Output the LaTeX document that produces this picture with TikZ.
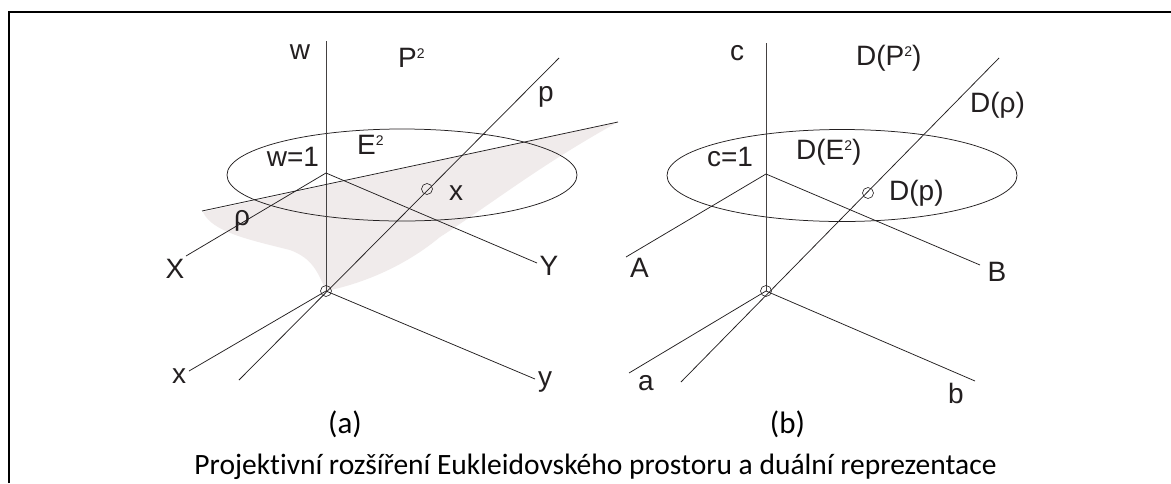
\documentclass[tikz,border=0pt]{standalone}
\usepackage{fontspec}
\setmainfont{Liberation Sans}
\newfontfamily\capfont[Ligatures=NoCommon]{Carlito}
\definecolor{ink}{HTML}{231F20}
\definecolor{planefill}{HTML}{F0EBEB}
\usetikzlibrary{shapes.geometric}
\tikzset{
  ln/.style={draw=ink,line width=0.75pt},
  axis/.style={draw=ink!85,line width=1pt},
  ptc/.style={circle,draw=ink,line width=0.6pt,minimum size=11pt,inner sep=0pt,fill=none},
  ring/.style={ellipse,draw=ink,line width=0.75pt,inner sep=0pt,minimum width=350pt,minimum height=92pt},
  lab/.style={inner sep=0pt,text=ink,font=\fontsize{28}{28}\selectfont},
  captext/.style={inner sep=0pt,text=black,font=\capfont\fontsize{31}{31}\selectfont}
}
\newcommand{\sq}{\raisebox{9pt}{\fontsize{14}{14}\selectfont 2}}
\begin{document}
\begin{tikzpicture}[x=1pt,y=-1pt]
\useasboundingbox (0,0) rectangle (1171,483);
\fill[white] (0,0) rectangle (1171,483);
\draw[black,line width=2pt] (9,483) -- (9,12) -- (1171,12);
% shaded region
\fill[planefill] (203,212) .. controls (212,232) and (250,240) .. (290,250)
  .. controls (312,258) and (318,272) .. (326,291)
  .. controls (370,282) and (410,262) .. (440,237)
  .. controls (490,205) and (540,165) .. (618,122) -- cycle;
% left diagram
\node[ring] (ea) at (402,175) {};
\coordinate (oa) at (326,291);
\coordinate (ca) at (326,173);
\coordinate (wt) at (326,41);
\coordinate (xe) at (186,256);
\coordinate (ye) at (537,263);
\coordinate (xl) at (189,371);
\coordinate (yl) at (535,379);
\coordinate (pt) at (559,58);
\coordinate (pb) at (239,380);
\coordinate (rl) at (202,211);
\coordinate (rr) at (618,122);
\draw[axis] (wt) -- (oa);
\draw[ln] (ca) -- (xe);
\draw[ln] (ca) -- (ye);
\draw[ln] (oa) -- (xl);
\draw[ln] (oa) -- (yl);
\draw[ln] (pt) -- (pb);
\draw[ln] (rl) -- (rr);
\node[ptc] (ca1) at (427,189) {};
\node[ptc] (oa1) at (326,291) {};
\node[lab] (lw) at (300,52) {w};
\node[lab,anchor=west] (lp) at (398,58) {P\sq};
\node[lab,anchor=west] (lp2) at (538,97) {p};
\node[lab] (lw1) at (293,157) {w=1};
\node[lab,anchor=west] (le) at (357,145) {E\sq};
\node[lab] (lx) at (456,193) {x};
\node[lab] (lrho) at (242,221) {ρ};
\node[lab] (lX) at (175,269) {X};
\node[lab] (lY) at (549,266) {Y};
\node[lab] (lx2) at (179,376) {x};
\node[lab] (ly2) at (545,382) {y};
\node[captext] (la) at (345,424) {(a)};
% right diagram
\node[ring] (eb) at (842,175.5) {};
\coordinate (ob) at (766,291);
\coordinate (cb) at (766,174);
\coordinate (ct) at (766,43);
\coordinate (ae) at (626,257);
\coordinate (be) at (980,265);
\coordinate (al) at (629,373);
\coordinate (bl) at (975,381);
\coordinate (qt) at (999,58);
\coordinate (qb) at (681,382);
\draw[axis] (ct) -- (ob);
\draw[ln] (cb) -- (ae);
\draw[ln] (cb) -- (be);
\draw[ln] (ob) -- (al);
\draw[ln] (ob) -- (bl);
\draw[ln] (qt) -- (qb);
\node[ptc] (cb1) at (868,193) {};
\node[ptc] (ob1) at (766,291) {};
\node[lab] (lc) at (737,53) {c};
\node[lab,anchor=west] (ld) at (856,58) {D(P\sq)};
\node[lab,anchor=west] (lr) at (970,105) {D(ρ)};
\node[lab] (lc1) at (730,157) {c=1};
\node[lab,anchor=west] (lde) at (796,152) {D(E\sq)};
\node[lab,anchor=west] (ldp) at (889,193) {D(p)};
\node[lab] (lA) at (639.5,268) {A};
\node[lab] (lB) at (997,272) {B};
\node[lab] (la2) at (646,383) {a};
\node[lab] (lb2) at (956,393) {b};
\node[captext] (lbb) at (787.5,424) {(b)};
\node[captext,font=\capfont\fontsize{29.5}{29.5}\selectfont,anchor=base] (cp) at (595.5,474) {Projektivní rozšíření Eukleidovského prostoru a duální reprezentace};
\end{tikzpicture}
\end{document}
